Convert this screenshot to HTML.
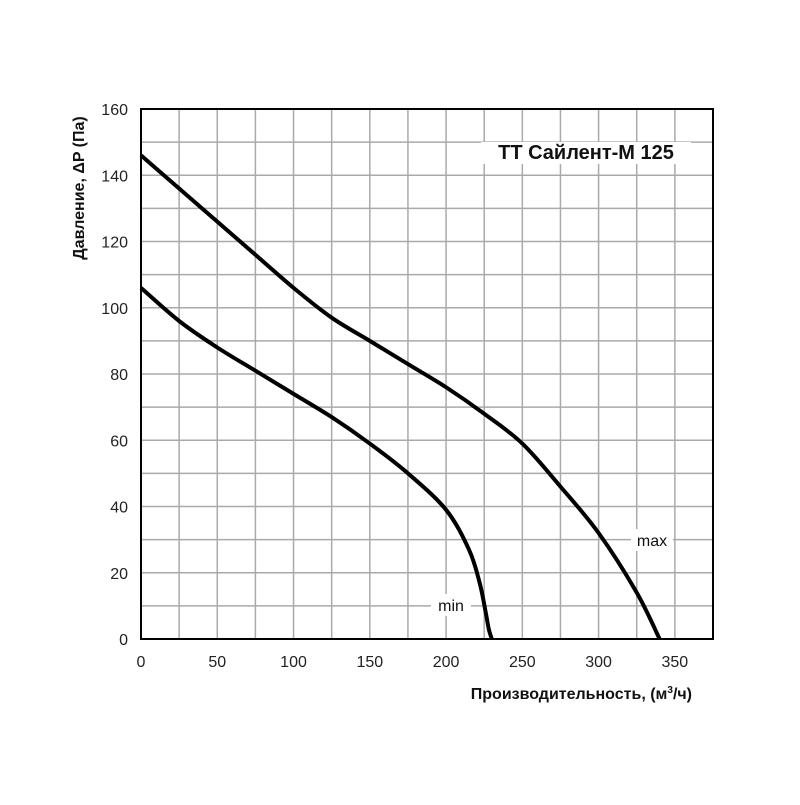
<!DOCTYPE html>
<html><head><meta charset="utf-8"><style>
body{margin:0;background:#fff}
svg text{font-family:"Liberation Sans","DejaVu Sans",sans-serif}
</style></head><body>
<svg id="c" width="800" height="800">
<g id="grid"></g><g id="curves"></g><g id="labels"></g>
<text x="692" y="699" text-anchor="end" font-size="16" font-weight="bold" fill="#111">Производительность, (м<tspan dy="-6" font-size="10">3</tspan><tspan dy="6">/ч)</tspan></text>
<text transform="translate(84,188) rotate(-90)" text-anchor="middle" font-size="16" font-weight="bold" fill="#111">Давление, ΔP (Па)</text>
</svg>
<script>
const xTicks=[0,50,100,150,200,250,300,350];
const yTicks=[0,20,40,60,80,100,120,140,160];
const maxQ=[0,25,50,75,100,125,150,175,200,225,250,275,300,325,340];
const maxP=[146,136,126,116,106,97,90,83,76,68,59,46,32,14,0];
const minQ=[0,25,50,75,100,125,150,175,200,215,222,226,228,230];
const minP=[106,96,88,81,74,67,59,50,39,27,17,8,3,0];
const X0=141,X1=713,Y0=639,Y1=109,XMAX=375,YMAX=160;
const sx=v=>X0+v/XMAX*(X1-X0), sy=v=>Y0-v/YMAX*(Y0-Y1);
const NS='http://www.w3.org/2000/svg';
function mk(p,t,a){const e=document.createElementNS(NS,t);for(const k in a)e.setAttribute(k,a[k]);p.appendChild(e);return e;}
const g=document.getElementById('grid'),cv=document.getElementById('curves'),lb=document.getElementById('labels');
for(let v=25;v<XMAX;v+=25){const l=mk(g,'line',{x1:sx(v),x2:sx(v),y1:Y1,y2:Y0,stroke:'#aaa','stroke-width':1.5});
}
for(let v=10;v<YMAX;v+=10){const l=mk(g,'line',{x1:X0,x2:X1,y1:sy(v),y2:sy(v),stroke:'#aaa','stroke-width':1.5});
}
const fr=mk(g,'rect',{x:X0,y:Y1,width:X1-X0,height:Y0-Y1,fill:'none',stroke:'#000','stroke-width':2});

xTicks.forEach(v=>{const t=mk(lb,'text',{x:sx(v),y:667,'text-anchor':'middle','font-size':16,fill:'#222'});t.textContent=v;
});
yTicks.forEach(v=>{const t=mk(lb,'text',{x:128,y:sy(v)+6,'text-anchor':'end','font-size':16,fill:'#222'});t.textContent=v;
});
function line(Q,P,name){const pts=Q.map((q,i)=>[sx(q),sy(P[i])]);
let d='M'+pts[0][0]+','+pts[0][1];
for(let i=0;i<pts.length-1;i++){const p0=pts[Math.max(0,i-1)],p1=pts[i],p2=pts[i+1],p3=pts[Math.min(pts.length-1,i+2)];
d+='C'+(p1[0]+(p2[0]-p0[0])/6)+','+(p1[1]+(p2[1]-p0[1])/6)+' '+(p2[0]-(p3[0]-p1[0])/6)+','+(p2[1]-(p3[1]-p1[1])/6)+' '+p2[0]+','+p2[1];}
const p=mk(cv,'path',{d:d,fill:'none',stroke:'#000','stroke-width':4,'stroke-linejoin':'round'});
}
line(maxQ,maxP,'max-curve');line(minQ,minP,'min-curve');
function tag(x,y,w,txt,name,size,bold){mk(lb,'rect',{x:x-w/2,y:y-12,width:w,height:22,fill:'#fff'});
const t=mk(lb,'text',{x:x,y:y+5,'text-anchor':'middle','font-size':size,'font-weight':bold?'bold':'normal',fill:'#111'});t.textContent=txt;
}
tag(652,541,42,'max','max-label',16);
tag(451,606,40,'min','min-label',16);
tag(586,154,210,'TT Сайлент-М 125','chart-title',20,true);
</script>
</body></html>
